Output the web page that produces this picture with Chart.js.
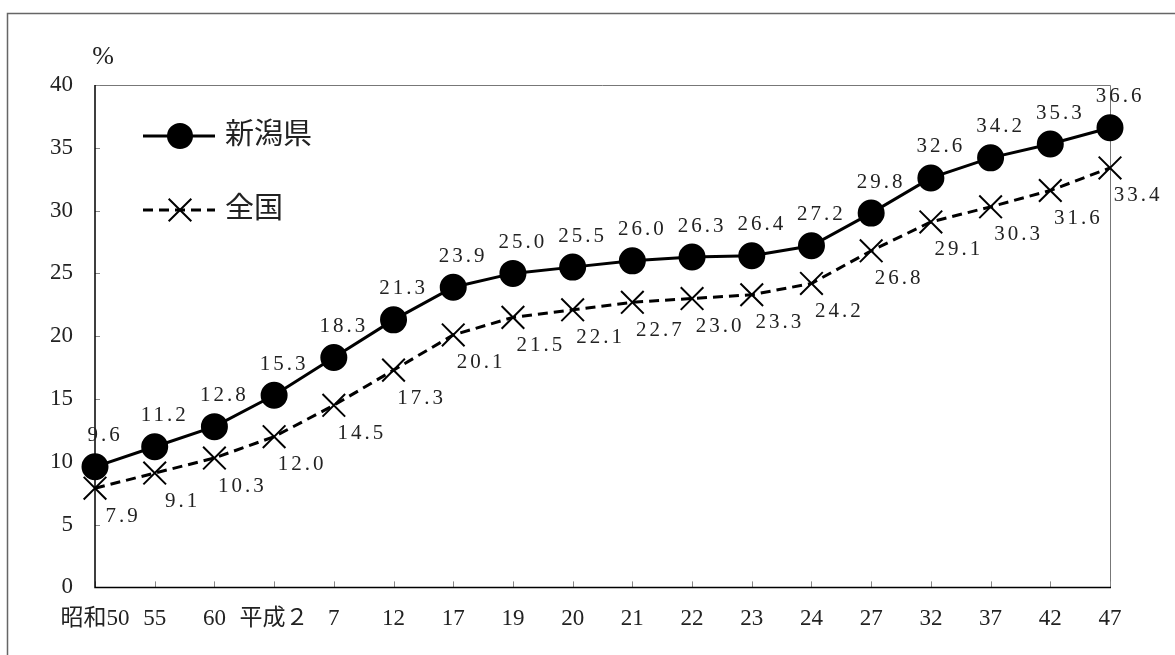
<!DOCTYPE html>
<html>
<head>
<meta charset="utf-8">
<script src="https://cdn.jsdelivr.net/npm/chart.js@4/dist/chart.umd.min.js"></script>
<style>
  body { margin: 0; background: #fff; }
  #wrap { width: 1175px; height: 655px; position: relative; }
</style>
</head>
<body>
<div id="wrap"><canvas id="myChart"></canvas></div>
<script>
  const categories = ['昭和50', '55', '60', '平成２', '7', '12', '17', '19', '20', '21', '22', '23', '24', '27', '32', '37', '42', '47'];
  const niigata = [9.6, 11.2, 12.8, 15.3, 18.3, 21.3, 23.9, 25.0, 25.5, 26.0, 26.3, 26.4, 27.2, 29.8, 32.6, 34.2, 35.3, 36.6];
  const zenkoku = [7.9, 9.1, 10.3, 12.0, 14.5, 17.3, 20.1, 21.5, 22.1, 22.7, 23.0, 23.3, 24.2, 26.8, 29.1, 30.3, 31.6, 33.4];
  const yMin = 0, yMax = 40, yStep = 5;

  const serif = "'Liberation Serif', 'Noto Sans CJK JP', serif";

  // frame, axes, ticks, value labels and legend
  const decorations = {
    id: 'decorations',
    beforeDraw(chart) {
      const ctx = chart.ctx;
      ctx.save();
      ctx.strokeStyle = '#666';
      ctx.lineWidth = 1.5;
      ctx.strokeRect(7.5, 13.5, 1200, 700);
      ctx.restore();
    },
    beforeDatasetsDraw(chart) {
      const ctx = chart.ctx;
      const a = chart.chartArea;
      const xs = chart.scales.x, ys = chart.scales.y;
      ctx.save();
      ctx.strokeStyle = '#777';
      ctx.lineWidth = 1;
      ctx.beginPath();
      ctx.moveTo(a.left, a.top + 0.5);
      ctx.lineTo(a.right + 0.5, a.top + 0.5);
      ctx.lineTo(a.right + 0.5, a.bottom);
      ctx.stroke();
      // ticks
      ctx.strokeStyle = '#888';
      ys.ticks.forEach(t => {
        const y = Math.round(ys.getPixelForValue(t.value)) + 0.5;
        ctx.beginPath(); ctx.moveTo(a.left, y); ctx.lineTo(a.left + 5, y); ctx.stroke();
      });
      categories.forEach((c, i) => {
        const x = Math.round(xs.getPixelForValue(i)) + 0.5;
        ctx.beginPath(); ctx.moveTo(x, a.bottom); ctx.lineTo(x, a.bottom - 6); ctx.stroke();
      });
      // axis lines
      ctx.strokeStyle = '#000';
      ctx.lineWidth = 1.5;
      ctx.beginPath();
      ctx.moveTo(a.left, a.top);
      ctx.lineTo(a.left, a.bottom);
      ctx.lineTo(a.right + 1, a.bottom);
      ctx.stroke();
      // unit
      ctx.fillStyle = '#222';
      ctx.font = '26px ' + serif;
      ctx.textAlign = 'center';
      ctx.textBaseline = 'middle';
      ctx.fillText('%', a.left + 8, a.top - 28);
      ctx.restore();
    },
    afterDatasetsDraw(chart) {
      const ctx = chart.ctx;
      const a = chart.chartArea;
      ctx.save();
      ctx.fillStyle = '#222';
      ctx.font = '21px ' + serif;
      ctx.letterSpacing = '3px';
      ctx.textAlign = 'center';
      ctx.textBaseline = 'middle';
      chart.getDatasetMeta(0).data.forEach((p, i) => {
        ctx.fillText(niigata[i].toFixed(1), p.x + 10, p.y - 31);
      });
      chart.getDatasetMeta(1).data.forEach((p, i) => {
        ctx.fillText(zenkoku[i].toFixed(1), p.x + 28, p.y + 28);
      });
      ctx.restore();

      // legend
      ctx.save();
      const rows = [a.top + 51, a.top + 125];
      chart.data.datasets.forEach((ds, k) => {
        const y = rows[k];
        ctx.strokeStyle = '#000';
        ctx.lineWidth = 3;
        ctx.setLineDash(ds.borderDash || []);
        ctx.beginPath();
        ctx.moveTo(a.left + 48, y);
        ctx.lineTo(a.left + 120, y);
        ctx.stroke();
        ctx.setLineDash([]);
        ctx.lineWidth = 2;
        Chart.helpers.drawPoint(ctx, {
          pointStyle: ds.pointStyle, radius: ds.pointRadius, borderWidth: 2
        }, a.left + 85, y);
        ctx.fillStyle = '#222';
        ctx.font = '29px ' + serif;
        ctx.textAlign = 'left';
        ctx.textBaseline = 'middle';
        ctx.fillText(ds.label, a.left + 130, y);
      });
      ctx.restore();
    }
  };

  const data = {
    labels: categories,
    datasets: [{
      label: '新潟県',
      data: niigata,
      borderColor: '#000',
      backgroundColor: '#000',
      borderWidth: 3,
      pointStyle: 'circle',
      pointRadius: 12,
      pointBackgroundColor: '#000',
      pointBorderColor: '#000',
      clip: false
    },
    {
      label: '全国',
      data: zenkoku,
      borderColor: '#000',
      backgroundColor: '#000',
      borderWidth: 3,
      borderDash: [10, 6],
      pointStyle: 'crossRot',
      pointRadius: 16,
      pointBorderWidth: 2,
      pointBorderColor: '#000',
      clip: false
    }]
  };

  const config = {
    type: 'line',
    data: data,
    options: {
      responsive: true,
      maintainAspectRatio: false,
      animation: false,
      events: [],
      layout: { padding: { left: 0, top: 85, right: 65, bottom: 12 } },
      plugins: { legend: { display: false }, tooltip: { enabled: false } },
      scales: {
        x: {
          offset: false,
          grid: { display: false },
          border: { display: false },
          ticks: {
            autoSkip: false, maxRotation: 0, padding: 10,
            color: '#222', font: { family: serif, size: 23 }
          }
        },
        y: {
          min: yMin, max: yMax,
          afterFit(s) { s.width = 95; },
          grid: { display: false },
          border: { display: false },
          ticks: {
            stepSize: yStep, padding: 14,
            color: '#222', font: { family: serif, size: 23 }
          }
        }
      }
    },
    plugins: [decorations]
  };

  const myChart = new Chart(document.getElementById('myChart'), config);
</script>
</body>
</html>
